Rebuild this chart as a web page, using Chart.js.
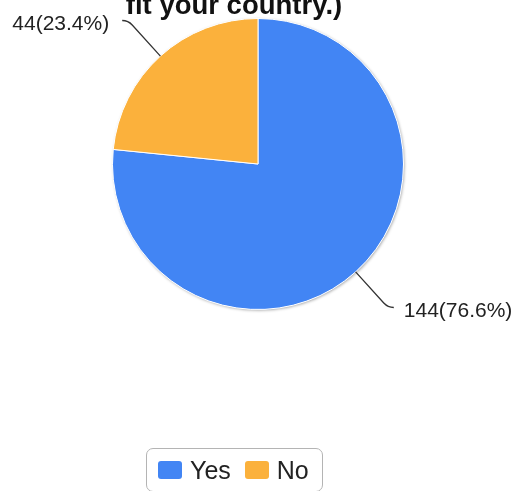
<!DOCTYPE html>
<html>
<head>
<meta charset="utf-8">
<script src="https://cdn.jsdelivr.net/npm/chart.js@4"></script>
<style>
  html, body { margin: 0; padding: 0; background: #fff; }
  #wrap { position: relative; width: 514px; height: 491px; overflow: hidden; }
  #legend {
    position: absolute; left: 146px; top: 448px; width: 177px; height: 44px;
    border: 1px solid #b4b4b4; border-radius: 7px; box-sizing: border-box;
    display: flex; align-items: center; justify-content: flex-start; padding-left: 11px;
    font: 25px "Liberation Sans", Arial, sans-serif; color: #222;
  }
  #legend span.box { display: inline-block; width: 24px; height: 18px; border-radius: 3px; margin-right: 8px; }
  #legend span.item { display: flex; align-items: center; margin-right: 14px; }
</style>
</head>
<body>
<div id="wrap">
  <canvas id="myChart" width="514" height="491"></canvas>
  <div id="legend"></div>
</div>
<script>
var titleText = 'fit your country.)';
var labels = ['Yes', 'No'];
var counts = [144, 44];
var colors = ['#4285F4', '#FBB13C'];

document.addEventListener('DOMContentLoaded', function() {
    var total = counts.reduce(function(a, b) { return a + b; }, 0);

    // shadow behind the pie + title
    var pieShadow = {
        id: 'pieShadow',
        beforeDatasetsDraw: function(chart) {
            var arc = chart.getDatasetMeta(0).data[0];
            var ctx = chart.ctx;
            ctx.save();
            ctx.shadowColor = 'rgba(0,0,0,0.35)';
            ctx.shadowBlur = 3;
            ctx.shadowOffsetX = 1;
            ctx.shadowOffsetY = 1;
            ctx.fillStyle = '#fff';
            ctx.beginPath();
            ctx.arc(arc.x, arc.y, arc.outerRadius, 0, Math.PI * 2);
            ctx.fill();
            ctx.restore();

            ctx.save();
            ctx.fillStyle = '#111';
            ctx.font = 'bold 27.5px "Liberation Sans", Arial, sans-serif';
            ctx.textAlign = 'center';
            ctx.textBaseline = 'alphabetic';
            ctx.fillText(titleText, 234, 14);
            ctx.restore();
        }
    };

    // value labels with leader lines
    var sliceLabels = {
        id: 'sliceLabels',
        afterDatasetsDraw: function(chart) {
            var ctx = chart.ctx;
            chart.getDatasetMeta(0).data.forEach(function(arc, i) {
                var mid = (arc.startAngle + arc.endAngle) / 2;
                var dx = Math.cos(mid), dy = Math.sin(mid);
                var r = arc.outerRadius;
                var side = dx < 0 ? -1 : 1;
                var p0x = arc.x + dx * r, p0y = arc.y + dy * r;
                var p1x = arc.x + dx * (r + 42), p1y = arc.y + dy * (r + 42);
                var cx = p1x + dx * 6, cy = p1y + dy * 6;
                var ex = cx + side * 6, ey = cy;
                ctx.save();
                ctx.strokeStyle = '#333';
                ctx.lineWidth = 1.3;
                ctx.beginPath();
                ctx.moveTo(p0x, p0y);
                ctx.lineTo(p1x, p1y);
                ctx.quadraticCurveTo(cx, cy, ex, ey);
                ctx.stroke();
                var pct = (counts[i] / total * 100).toFixed(1);
                ctx.fillStyle = '#222';
                ctx.font = '21px "Liberation Sans", Arial, sans-serif';
                ctx.textBaseline = 'middle';
                ctx.textAlign = side < 0 ? 'right' : 'left';
                ctx.fillText(counts[i] + '(' + pct + '%)', ex + side * (side < 0 ? 13 : 10), ey + 4);
                ctx.restore();
            });
        }
    };

    var ctx = document.getElementById('myChart').getContext('2d');
    var myChart = new Chart(ctx, {
        type: 'pie',
        data: {
            labels: labels,
            datasets: [{
                data: counts,
                backgroundColor: colors,
                borderColor: '#fff',
                borderWidth: 1
            }]
        },
        options: {
            responsive: false,
            animation: false,
            layout: { padding: { left: 112, right: 110, top: 18, bottom: 181 } },
            plugins: {
                legend: { display: false },
                tooltip: { enabled: false }
            }
        },
        plugins: [pieShadow, sliceLabels]
    });

    var legend = document.getElementById('legend');
    labels.forEach(function(lab, i) {
        var item = document.createElement('span');
        item.className = 'item';
        var box = document.createElement('span');
        box.className = 'box';
        box.style.background = colors[i];
        item.appendChild(box);
        item.appendChild(document.createTextNode(lab));
        legend.appendChild(item);
    });
});
</script>
</body>
</html>
